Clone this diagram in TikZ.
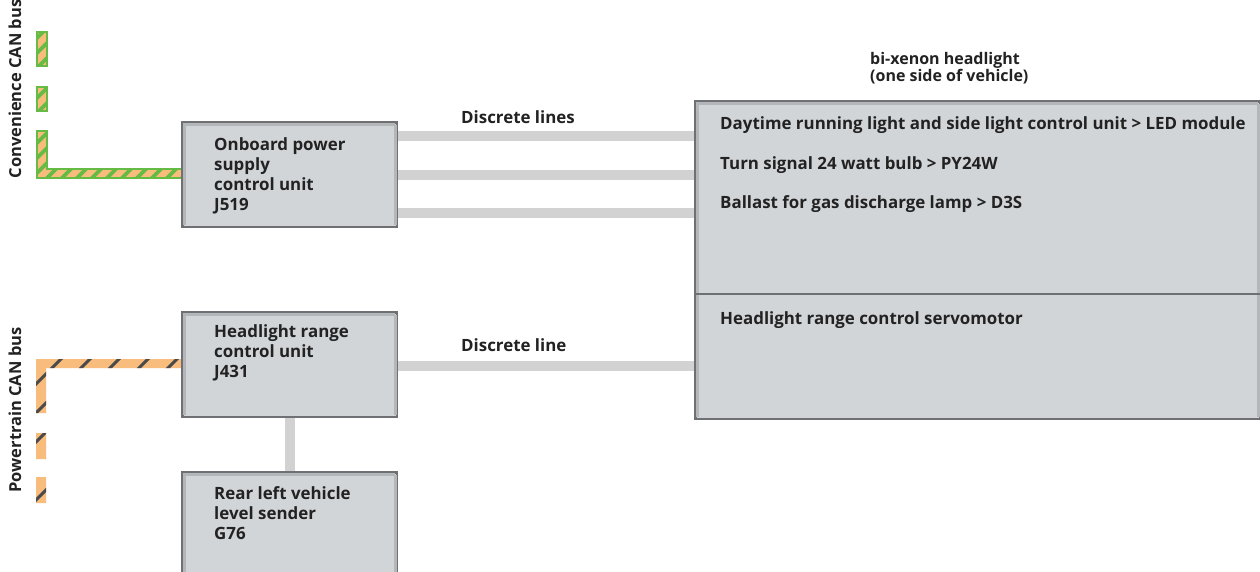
\documentclass[tikz,border=0pt]{standalone}
\usepackage{fontspec}
\setmainfont{Open Sans}
\definecolor{boxfill}{HTML}{D2D5D8}
\definecolor{boxedge}{HTML}{6E7073}
\definecolor{boxshade}{HTML}{B4B7BA}
\definecolor{wire}{HTML}{D2D2D2}
\definecolor{txt}{HTML}{222222}
\definecolor{canorange}{HTML}{F8BC7C}
\definecolor{cangreen}{HTML}{66BB44}
\definecolor{candark}{HTML}{4A4A4A}
\tikzset{
  ecubox/.style={rectangle, fill=boxfill, draw=boxedge, line width=1.6pt, inner sep=0pt, anchor=north west},
  lbl/.style={inner sep=0pt, anchor=base west, align=left, text=txt, font=\fontsize{16.9}{20}\selectfont\bfseries},
  titlelbl/.style={inner sep=0pt, anchor=base west, align=left, text=txt, font=\fontsize{16}{17}\selectfont\bfseries},
  buslbl/.style={inner sep=0pt, rotate=90, text=txt, font=\fontsize{16.5}{18}\selectfont\bfseries},
  conn/.style={draw=wire, line width=10pt},
}
\begin{document}
\begin{tikzpicture}[x=1pt,y=-1pt]
\clip (0,0) rectangle (1260,571);
\fill[white] (0,0) rectangle (1260,571);

% ---------- Convenience CAN bus ----------
\begin{scope}
  \clip (37,32) rectangle (47,66) (37,87) rectangle (47,111)
        (37,131) rectangle (47,178) (37,169) rectangle (182,178);
  \fill[canorange] (30,20) rectangle (190,190);
  \foreach \t in {-200,-185,...,200}
    \draw[cangreen, line width=3.6pt] (\t,200) -- (\t+200,0);
\end{scope}
\draw[cangreen, line width=1.2pt] (37,32) rectangle (47,66);
\draw[cangreen, line width=1.2pt] (37,87) rectangle (47,111);
\draw[cangreen, line width=1.2pt] (37,131) -- (47,131) -- (47,169) -- (182,169) -- (182,178) -- (37,178) -- cycle;
\node[buslbl] (convlbl) at (15,89) {Convenience CAN bus};

% ---------- Powertrain CAN bus ----------
\begin{scope}
  \clip (36,359) rectangle (46,413) (36,359) rectangle (182,368)
        (36,433) rectangle (46,459) (36,477) rectangle (46,503);
  \fill[canorange] (30,350) rectangle (190,510);
  \foreach \t in {-100,-71,...,500}
    \draw[candark, line width=3pt] (\t,520) -- (\t+200,320);
\end{scope}
\node[buslbl] (ptlbl) at (15,410) {Powertrain CAN bus};

% ---------- control units ----------
\node[ecubox, minimum width=214pt, minimum height=104pt] (onb) at (182,122) {};
\node[ecubox, minimum width=214pt, minimum height=104pt] (hrc) at (182,312) {};
\node[ecubox, minimum width=214pt, minimum height=110pt] (rls) at (182,472) {};
\node[ecubox, minimum width=564pt, minimum height=317pt] (hl) at (695,101) {};

\foreach \b in {onb,hrc,rls,hl}{
  \draw[boxshade, line width=3pt] ([shift={(2.6pt,2.6pt)}]\b.south west) -- ([shift={(2.6pt,-2.6pt)}]\b.north west) -- ([shift={(-2.6pt,-2.6pt)}]\b.north east);
  \draw[boxshade, line width=3pt] ([shift={(-2.6pt,-2.6pt)}]\b.north east) -- ([shift={(-2.6pt,2.6pt)}]\b.south east);
  \draw[boxedge, line width=1.6pt] (\b.south west) rectangle (\b.north east);
}

\coordinate (divy) at (0,294);
\draw[boxedge, line width=2pt] (hl.west |- divy) -- (hl.east |- divy);

% ---------- connectors ----------
\coordinate (l1) at (0,136);
\coordinate (l2) at (0,175);
\coordinate (l3) at (0,213);
\coordinate (l4) at (0,366);
\draw[conn] ([xshift=0.8pt]onb.east |- l1) -- ([xshift=-0.8pt]hl.west |- l1);
\draw[conn] ([xshift=0.8pt]onb.east |- l2) -- ([xshift=-0.8pt]hl.west |- l2);
\draw[conn] ([xshift=0.8pt]onb.east |- l3) -- ([xshift=-0.8pt]hl.west |- l3);
\draw[conn] ([xshift=0.8pt]hrc.east |- l4) -- ([xshift=-0.8pt]hl.west |- l4);
\coordinate (vx) at (290,0);
\draw[conn] ([yshift=-0.8pt]hrc.south -| vx) -- ([yshift=0.8pt]rls.north -| vx);

% ---------- texts ----------
\node[lbl] (t1) at (214,210) {Onboard power\\supply\\control unit\\J519};
\node[lbl] (t2) at (214,377) {Headlight range\\control unit\\J431};
\node[lbl] (t3) at (214,539) {Rear left vehicle\\level sender\\G76};
\node[lbl] (dl1) at (461,123) {Discrete lines};
\node[lbl] (dl2) at (461,351) {Discrete line};
\node[titlelbl] (title) at (870,81) {bi-xenon headlight\\(one side of vehicle)};
\node[lbl] (h1) at (720,129) {Daytime running light and side light control unit > LED module};
\node[lbl] (h2) at (720,169) {Turn signal 24 watt bulb > PY24W};
\node[lbl] (h3) at (720,208) {Ballast for gas discharge lamp > D3S};
\node[lbl] (h4) at (720,324) {Headlight range control servomotor};
\end{tikzpicture}
\end{document}
